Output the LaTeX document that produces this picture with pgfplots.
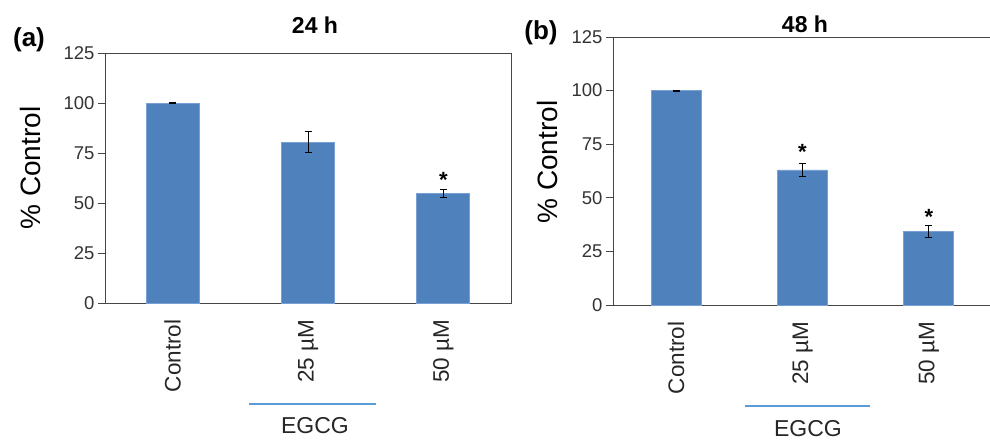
\documentclass[border=0pt]{standalone}
\usepackage{pgfplots}
\pgfplotsset{compat=1.18}
\usepackage{pgfplotstable}
\usepackage{fontspec}
\setmainfont{Liberation Sans}
\definecolor{barblue}{RGB}{79,129,189}
\definecolor{baredge}{RGB}{120,160,212}
\definecolor{lineblue}{RGB}{91,155,213}
\definecolor{axgray}{RGB}{70,70,70}
\pgfplotstableread{
x y err
0 100 0.3
1 80.5 5.2
2 54.8 2.1
}\dataA
\pgfplotstableread{
x y err
0 100 0.2
1 63.0 3.0
2 34.5 2.8
}\dataB
\pgfplotsset{
  mybar/.style={
    scale only axis, anchor=south west,
    ymin=0, ymax=125, ytick={0,25,...,125},
    xmin=-0.5, xmax=2.5, xtick={0,1,2},
    xticklabels={Control,25 µM,50 µM},
    x tick label style={rotate=90, anchor=east, font=\fontsize{22.5}{24}\selectfont, text=black!85},
    xticklabel shift=6pt,
    y tick label style={font=\fontsize{18.5}{20}\selectfont, text=black!80},
    /pgf/number format/assume math mode=true,
    ytick pos=left, tick align=outside, major tick length=7pt,
    y tick style={axgray, line width=0.8pt},
    x tick style={draw=none},
    axis line style={axgray, line width=0.9pt},
    ybar,
    error bars/error bar style={black, line width=1pt},
    error bars/error mark options={rotate=90, mark size=3.5pt, black, line width=1pt},
  },
  barplot/.style={fill=barblue, draw=baredge, line width=0.8pt},
}
\begin{document}
\begin{tikzpicture}
\useasboundingbox (0pt,0pt) rectangle (990pt,440pt);
% Panel a
\begin{axis}[mybar, at={(105pt,137pt)}, width=406pt, height=250pt, bar width=53pt]
\addplot[barplot, error bars/.cd, y dir=both, y explicit] table[x=x, y=y, y error=err] {\dataA};
\node[font=\fontsize{22}{22}\selectfont\bfseries, inner sep=0pt] at (axis cs:2,61.5) {*};
\end{axis}
% Panel b
\begin{axis}[mybar, at={(613pt,135pt)}, width=379pt, height=268pt, bar width=50pt]
\addplot[barplot, error bars/.cd, y dir=both, y explicit] table[x=x, y=y, y error=err] {\dataB};
\node[font=\fontsize{22}{22}\selectfont\bfseries, inner sep=0pt] at (axis cs:1,71.5) {*};
\node[font=\fontsize{22}{22}\selectfont\bfseries, inner sep=0pt] at (axis cs:2,41.2) {*};
\end{axis}
% annotations
\node[font=\fontsize{26}{28}\selectfont\bfseries] at (29pt,400pt) {(a)};
\node[font=\fontsize{23}{25}\selectfont\bfseries] at (315pt,415pt) {24 h};
\node[font=\fontsize{28}{30}\selectfont, rotate=90] at (30pt,272pt) {\% Control};
\draw[lineblue, line width=1.6pt] (249pt,36pt) -- (376pt,36pt);
\node[font=\fontsize{23}{25}\selectfont, text=black!85] at (315pt,14pt) {EGCG};
\node[font=\fontsize{26}{28}\selectfont\bfseries] at (541pt,407pt) {(b)};
\node[font=\fontsize{23}{25}\selectfont\bfseries] at (805pt,416pt) {48 h};
\node[font=\fontsize{28}{30}\selectfont, rotate=90] at (547pt,278pt) {\% Control};
\draw[lineblue, line width=1.6pt] (745pt,34pt) -- (870pt,34pt);
\node[font=\fontsize{23}{25}\selectfont, text=black!85] at (808pt,11pt) {EGCG};
\end{tikzpicture}
\end{document}
